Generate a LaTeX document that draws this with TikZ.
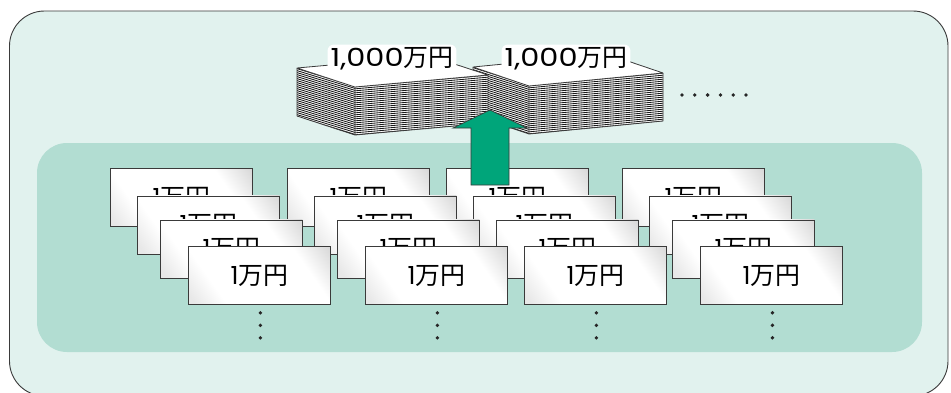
\documentclass[tikz,border=0pt]{standalone}
\usepackage{fontspec}
\usetikzlibrary{calc}
\newfontfamily\jp{Noto Sans CJK JP}
\newfontfamily\num{Poppins}
\newfontfamily\widenum{Poppins}[FakeStretch=1.22]

\definecolor{outerbg}{HTML}{E1F2EE}
\definecolor{panelbg}{HTML}{B2DDD2}
\definecolor{arrowgreen}{HTML}{00A57A}
\definecolor{edgecol}{HTML}{3A3A3A}

% glossy white for the notes: grey towards two opposite corners
\pgfdeclarehorizontalshading{sheen}{100bp}{color(0bp)=(black!10); color(18bp)=(black!9); color(30bp)=(white); color(70bp)=(white); color(85bp)=(black!16); color(100bp)=(black!16)}

\tikzset{
  note/.style={draw=edgecol, line width=0.8bp, shading=sheen, shading angle=35,
    minimum width=142bp, minimum height=58bp, inner sep=0pt, anchor=north west,
    font=\jp\fontsize{25}{25}\selectfont},
  sumtag/.style={fill=white, inner sep=3bp, rounded corners=6bp, font=\jp\fontsize{25}{25}\selectfont},
  face/.style={fill=white, draw=edgecol, line width=0.8bp, line join=round},
  hatch/.style={draw=black!90, line width=0.85bp},
  dot/.style={fill=black!85},
}

\begin{document}
\begin{tikzpicture}[x=1bp,y=-1bp]
\useasboundingbox (0,0) rectangle (951,392);
\clip (0,0) rectangle (951,392);

% frame and panel
\draw[edgecol, line width=0.9bp, fill=outerbg, rounded corners=35bp] (9.5,11) rectangle (948,396);
\fill[panelbg, rounded corners=30bp] (37,143) rectangle (922,352);

% notes, drawn row by row from the back
\foreach \dx/\dy [count=\r] in {0/0, 27/27.5, 50/51.5, 78/78} {
  \foreach \cx [count=\c] in {110, 287, 446, 622} {
    \node[note] (n-\c-\r) at (\cx+\dx, 168+\dy) {{\num 1}万円};
  }
}

% dots below each pile
\foreach \c in {1,...,4} {
  \foreach \k in {0,1,2} {
    \fill[dot] ($(n-\c-4.south)+(1,8+12.5*\k)$) circle (1.9bp);
  }
}

% bundle shape: #1 left, #2 front, #3 right corner of the top face
\newcommand\bundle[3]{%
  \coordinate (L) at #1; \coordinate (F) at #2; \coordinate (R) at #3;
  \coordinate (B) at ($(L)+(R)-(F)$);
  \coordinate (Ld) at ($(L)+(0,48)$); \coordinate (Fd) at ($(F)+(0,48)$); \coordinate (Rd) at ($(R)+(0,48)$);
  \fill[white] (L) -- (F) -- (R) -- (Rd) -- (Fd) -- (Ld) -- cycle;
  \begin{scope}
    \clip (L) -- (F) -- (Fd) -- (Ld) -- cycle;
    \foreach \k in {0,...,25} \draw[hatch] ($(L)+(-2,2*\k)$) -- ($(F)+(2,2*\k)$);
  \end{scope}
  \begin{scope}
    \clip (F) -- (R) -- (Rd) -- (Fd) -- cycle;
    \foreach \k in {0,...,25} \draw[hatch] ($(F)+(-2,2*\k)$) -- ($(R)+(2,2*\k)$);
  \end{scope}
  \draw[face] (L) -- (F) -- (R) -- (B) -- cycle;
  \draw[edgecol, line width=0.8bp, line join=round] (L) -- (Ld) -- (Fd) -- (Rd) -- (R) (F) -- (Fd);
}

\bundle{(473,67)}{(529,86)}{(663,73)}
\bundle{(297,68)}{(355,87)}{(488,75)}

\node[sumtag] (m1) at (392,59) {{\widenum 1,000}万円};
\node[sumtag] (m2) at (566,59) {{\widenum 1,000}万円};

% more bundles follow
\foreach \k in {0,...,5} \fill[dot] (682+12.8*\k,95) circle (1.9bp);

% upward arrow from the notes to the bundles
\coordinate (tip) at (490,110);
\draw[fill=arrowgreen, draw=edgecol, line width=0.7bp, line join=miter]
  (471,185) -- (471,128) -- (453,128) -- (tip) -- (527,128) -- (509,128) -- (509,185) -- cycle;
\end{tikzpicture}
\end{document}
